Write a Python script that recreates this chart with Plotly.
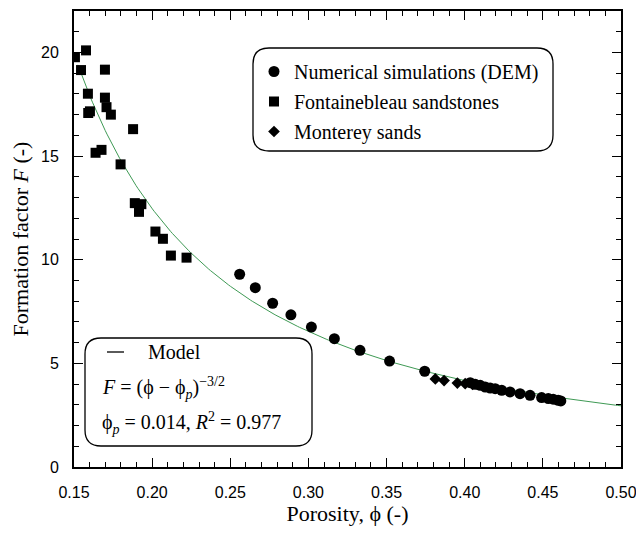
import plotly.graph_objects as go
import numpy as np

# ---- data ----
dem_phi = [0.256, 0.266, 0.2771, 0.2888, 0.3019, 0.3166, 0.3330, 0.3519, 0.3744,
           0.4035, 0.4067, 0.4099, 0.4131, 0.4163, 0.4195, 0.4237, 0.4290, 0.4354,
           0.4418, 0.4492, 0.4535, 0.4566, 0.4598, 0.4615]
dem_F = [9.3, 8.65, 7.90, 7.34, 6.75, 6.19, 5.63, 5.11, 4.62,
         4.07, 3.99, 3.94, 3.86, 3.81, 3.78, 3.70, 3.62, 3.54,
         3.46, 3.35, 3.30, 3.27, 3.22, 3.19]

font_phi = [0.1506, 0.1577, 0.1545, 0.1698, 0.1589, 0.1698, 0.1591, 0.1602, 0.1708,
            0.1736, 0.1878, 0.1638, 0.1676, 0.1798, 0.1889, 0.1931, 0.1916, 0.2021,
            0.2069, 0.2120, 0.2220]
font_F = [19.77, 20.10, 19.15, 19.17, 18.01, 17.82, 17.08, 17.16, 17.36,
          17.00, 16.30, 15.16, 15.30, 14.60, 12.73, 12.68, 12.31, 11.36,
          11.01, 10.20, 10.10]

mont_phi = [0.3812, 0.3868, 0.3953, 0.4003, 0.4050]
mont_F = [4.25, 4.17, 4.05, 4.02, 3.98]

phi_p = 0.014
exponent = -1.5
model_phi = np.linspace(0.1525, 0.50, 300)
model_F = (model_phi - phi_p) ** exponent

x_ticks = [0.15, 0.20, 0.25, 0.30, 0.35, 0.40, 0.45, 0.50]
y_ticks = [0, 5, 10, 15, 20]

# ---- layout geometry ----
W, H = 636, 534
ML, MR, MT, MB = 74, 15, 11, 67
PW, PH = W - ML - MR, H - MT - MB

SERIF = "Liberation Serif, Times New Roman, serif"
SANS = "Liberation Sans, Arial, sans-serif"
PHI = "\u03d5"


def px2paper(x, y):
    return (x - ML) / PW, (H - MB - y) / PH


def rounded_box(x0, y0, x1, y1, r):
    def P(x, y):
        px, py = px2paper(x, y)
        return f"{px:.5f},{py:.5f}"
    path = (f"M {P(x0 + r, y0)} L {P(x1 - r, y0)} Q {P(x1, y0)} {P(x1, y0 + r)} "
            f"L {P(x1, y1 - r)} Q {P(x1, y1)} {P(x1 - r, y1)} "
            f"L {P(x0 + r, y1)} Q {P(x0, y1)} {P(x0, y1 - r)} "
            f"L {P(x0, y0 + r)} Q {P(x0, y0)} {P(x0 + r, y0)} Z")
    return dict(type="path", xref="paper", yref="paper", path=path,
                line=dict(color="black", width=1.3), fillcolor="rgba(0,0,0,0)")


fig = go.Figure()

fig.add_trace(go.Scatter(x=model_phi, y=model_F, mode="lines",
                         line=dict(color="#3f9a55", width=1), showlegend=False,
                         name="Model"))
fig.add_trace(go.Scatter(x=dem_phi, y=dem_F, mode="markers", name="Numerical simulations (DEM)",
                         marker=dict(symbol="circle", size=11, color="black"),
                         legendgroup="a"))
fig.add_trace(go.Scatter(x=font_phi, y=font_F, mode="markers", name="Fontainebleau sandstones",
                         marker=dict(symbol="square", size=10, color="black"),
                         legendgroup="b"))
fig.add_trace(go.Scatter(x=mont_phi, y=mont_F, mode="markers", name="Monterey sands",
                         marker=dict(symbol="diamond", size=9, color="black"),
                         legendgroup="c"))

shapes = [rounded_box(253, 48, 553, 151, 16), rounded_box(85, 338, 312, 446, 16)]
lx0, ly = px2paper(107, 352)
lx1, _ = px2paper(124, 352)
shapes.append(dict(type="line", xref="paper", yref="paper", x0=lx0, x1=lx1, y0=ly, y1=ly,
                   line=dict(color="black", width=1.3)))

annotations = []
def ann(text, x, y):
    px, py = px2paper(x, y)
    annotations.append(dict(text=text, x=px, y=py, xref="paper", yref="paper",
                            xanchor="left", yanchor="middle", showarrow=False,
                            font=dict(family=SERIF, size=20, color="black")))
ann("Model", 146, 352)
ann(f"<i>F</i> = ({PHI} − {PHI}<sub><i>p</i></sub>)<sup>−3/2</sup>", 100, 388)
ann(f"{PHI}<sub><i>p</i></sub> = 0.014, <i>R</i><sup>2</sup> = 0.977", 100, 423)

lgx, lgy = px2paper(254, 52)

fig.update_layout(
    width=W, height=H,
    margin=dict(l=ML, r=MR, t=MT, b=MB, autoexpand=False),
    plot_bgcolor="white", paper_bgcolor="white",
    shapes=shapes, annotations=annotations,
    legend=dict(x=lgx, y=lgy, xanchor="left", yanchor="top",
                bgcolor="rgba(0,0,0,0)", borderwidth=0,
                font=dict(family=SERIF, size=20, color="black"),
                tracegroupgap=1),
    xaxis=dict(range=[0.15, 0.50], tickvals=x_ticks, ticktext=[f"{v:.2f}" for v in x_ticks],
               ticks="inside", ticklen=9, tickwidth=1.3, tickcolor="black",
               minor=dict(ticks="inside", ticklen=5, dtick=0.01, tickwidth=1.3, tickcolor="black"),
               showline=True, linecolor="black", linewidth=1.8, mirror="allticks",
               showgrid=False, zeroline=False, ticklabeloverflow="allow",
               ticklabelstandoff=10, automargin=False,
               tickfont=dict(family=SANS, size=16, color="black"),
               title=dict(text=f"Porosity, {PHI} (-)", font=dict(family=SERIF, size=22, color="black"),
                          standoff=6)),
    yaxis=dict(range=[0, 22], tickvals=y_ticks,
               ticks="inside", ticklen=9, tickwidth=1.3, tickcolor="black",
               minor=dict(ticks="inside", ticklen=5, dtick=1, tickwidth=1.3, tickcolor="black"),
               showline=True, linecolor="black", linewidth=1.8, mirror="allticks",
               showgrid=False, zeroline=False, ticklabelstandoff=10, automargin=False,
               tickfont=dict(family=SANS, size=16, color="black"),
               title=dict(text="Formation factor <i>F</i> (-)",
                          font=dict(family=SERIF, size=22, color="black"), standoff=6)),
)

fig.write_html("out.html")
